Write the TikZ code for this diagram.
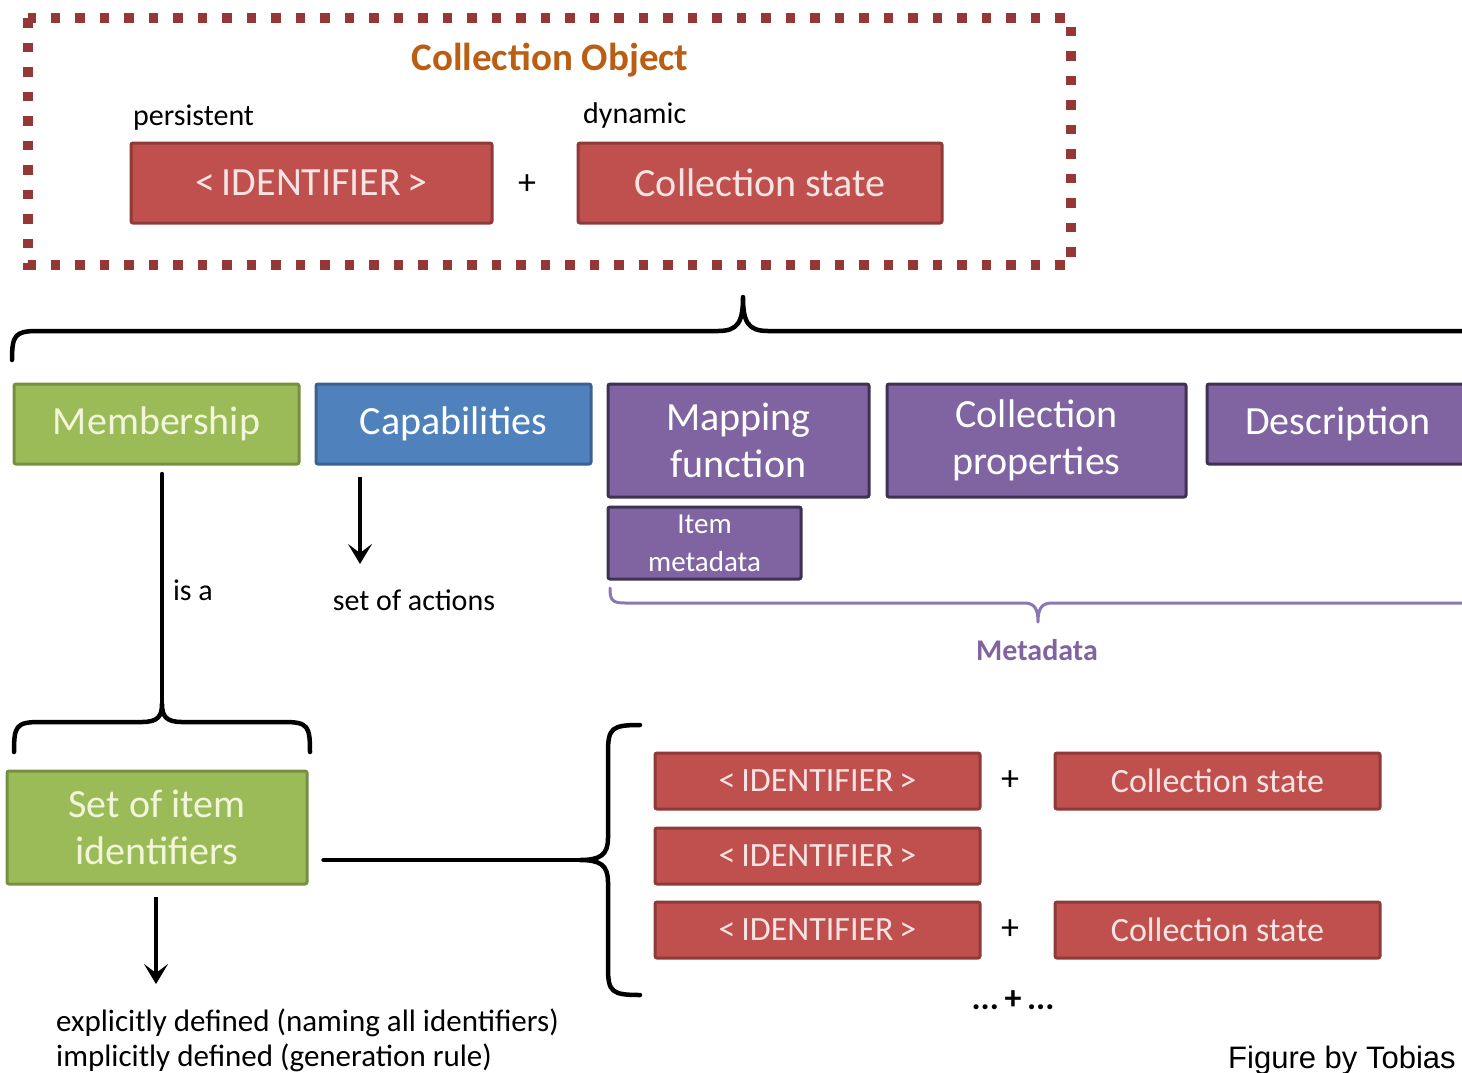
\documentclass[tikz,border=0pt]{standalone}
\usepackage{fontspec}
\setmainfont{Carlito}
\newfontfamily\arialfont{Liberation Sans}
\usetikzlibrary{arrows.meta,positioning}

\definecolor{idred}{HTML}{C0504D}
\definecolor{idredline}{HTML}{8E3A38}
\definecolor{idredtext}{HTML}{F6E4E3}
\definecolor{memgreen}{HTML}{9BBB59}
\definecolor{memgreenline}{HTML}{75903F}
\definecolor{memgreentext}{HTML}{F1F6D8}
\definecolor{capblue}{HTML}{4F81BD}
\definecolor{capblueline}{HTML}{3A6190}
\definecolor{metapurple}{HTML}{8064A2}
\definecolor{metapurpleline}{HTML}{3F3151}
\definecolor{bracepurple}{HTML}{8A78B4}
\definecolor{dotred}{HTML}{953735}
\definecolor{titleorange}{HTML}{B95E12}

\newcommand{\boxfont}{\fontsize{40}{47}\selectfont}
\newcommand{\smallboxfont}{\fontsize{34}{38}\selectfont}
\newcommand{\notefont}{\fontsize{30}{36}\selectfont}

\tikzset{
  cellbox/.style={rectangle,rounded corners=2pt,line width=3pt,inner sep=0pt,align=center,font=\boxfont},
  redbox/.style={cellbox,fill=idred,draw=idredline,text=idredtext},
  greenbox/.style={cellbox,fill=memgreen,draw=memgreenline,text=memgreentext},
  bluebox/.style={cellbox,fill=capblue,draw=capblueline,text=white},
  purplebox/.style={cellbox,fill=metapurple,draw=metapurpleline,text=white},
  note/.style={font=\notefont,inner sep=0pt},
  plus/.style={font=\fontsize{36}{36}\selectfont,inner sep=0pt},
  brace/.style={line width=4.5pt,line cap=round,line join=round},
  arr/.style={line width=4.5pt,-{Stealth[length=20pt,width=24pt,inset=9pt]}}
}

\begin{document}
\begin{tikzpicture}[x=1pt,y=-1pt]
  \useasboundingbox (0,0) rectangle (1462,1072);

  %collection object
  \draw[dotred,line width=9.5pt,dash pattern=on 9.5pt off 15pt] (28,18) rectangle (1071,265);
  \node[font=\fontsize{39}{39}\selectfont\bfseries,text=titleorange] (title) at (550,60) {Collection Object};
  \node[redbox,minimum width=361pt,minimum height=80pt] (idtop) at (311.5,183) {<\,IDENTIFIER\,>};
  \node[plus] (plustop) at (527,185) {+};
  \node[redbox,minimum width=364pt,minimum height=80pt] (sttop) at (760,183) {Collection state};
  \node[note,anchor=south west] (persist) at (133,131) {persistent};
  \node[note,anchor=south west] (dyn) at (583,129) {dynamic};

  %top brace
  \coordinate (topcusp) at (743,297);
  \draw[brace] (12,360) .. controls (12,335) and (15,331) .. (38,331) -- (718,331)
    .. controls (738,331) and (743,322) .. (topcusp)
    .. controls (743,322) and (748,331) .. (768,331) -- (1490,331);

  %parts
  \node[greenbox,minimum width=285pt,minimum height=80pt] (mem) at (156.5,424) {Membership};
  \node[bluebox,minimum width=275pt,minimum height=80pt] (cap) at (453.5,424) {Capabilities};
  \node[purplebox,minimum width=261pt,minimum height=113pt] (map) at (738.5,440.5) {Mapping\\function};
  \node[purplebox,minimum width=299pt,minimum height=113pt] (props) at (1036.5,440.5) {Collection\\properties};
  \node[purplebox,minimum width=262pt,minimum height=80pt] (desc) at (1338,424) {Description};
  \node[purplebox,font=\fontsize{29}{38}\selectfont,minimum width=193pt,minimum height=72pt] (item) at (704.5,543) {Item\\metadata};

  %metadata brace
  \coordinate (metacusp) at (1038,622);
  \draw[brace,bracepurple,line width=3pt] (610,588) .. controls (610,600) and (612,603) .. (625,603) -- (1024,603)
    .. controls (1034,603) and (1038,608) .. (metacusp)
    .. controls (1038,608) and (1042,603) .. (1052,603) -- (1490,603);
  \node[font=\fontsize{30}{30}\selectfont\bfseries,text=metapurple] (meta) at (1037,650) {Metadata};

  %capabilities
  \coordinate (capfoot) at (360,477);
  \coordinate (captip) at (360,564);
  \draw[arr] (capfoot) -- (captip);
  \node[note] (acts) at (414,600) {set of actions};

  %membership
  \coordinate (memfoot) at (162,474);
  \coordinate (memcusp) at (162,704);
  \draw[brace] (memfoot) -- (memcusp);
  \draw[brace] (14,752) .. controls (14,726) and (16,722) .. (40,722) -- (142,722)
    .. controls (158,722) and (162,716) .. (memcusp)
    .. controls (162,716) and (166,722) .. (182,722) -- (284,722)
    .. controls (308,722) and (310,726) .. (310,752);
  \node[note] (isa) at (193,590) {is a};

  \node[greenbox,minimum width=300pt,minimum height=113pt] (sid) at (157,827.5) {Set of item\\identifiers};
  \coordinate (sidfoot) at (156,897);
  \coordinate (sidtip) at (156,984);
  \draw[arr] (sidfoot) -- (sidtip);
  \node[note,align=left,anchor=north west,font=\fontsize{31}{35}\selectfont] (defs) at (56,1009)
    {explicitly defined (naming all identifiers)\\implicitly defined (generation rule)};

  %right brace
  \coordinate (sidcusp) at (580,860);
  \draw[brace] ([xshift=15pt]sid.east |- sidcusp) -- (sidcusp);
  \draw[brace] (640,725) .. controls (612,725) and (608,728) .. (608,752) -- (608,838)
    .. controls (608,855) and (600,860) .. (sidcusp)
    .. controls (600,860) and (608,865) .. (608,882) -- (608,968)
    .. controls (608,992) and (612,995) .. (640,995);

  %item identifiers
  \node[redbox,font=\smallboxfont,minimum width=325pt,minimum height=56pt] (id1) at (817.5,781) {<\,IDENTIFIER\,>};
  \node[plus] (plus1) at (1010,781) {+};
  \node[redbox,font=\smallboxfont,minimum width=325pt,minimum height=56pt] (st1) at (1217.5,781) {Collection state};
  \node[redbox,font=\smallboxfont,minimum width=325pt,minimum height=56pt] (id2) at (817.5,856) {<\,IDENTIFIER\,>};
  \node[redbox,font=\smallboxfont,minimum width=325pt,minimum height=56pt] (id3) at (817.5,930) {<\,IDENTIFIER\,>};
  \node[plus] (plus3) at (1010,930) {+};
  \node[redbox,font=\smallboxfont,minimum width=325pt,minimum height=56pt] (st3) at (1217.5,930) {Collection state};
  \node[plus,font=\fontsize{34}{34}\selectfont\bfseries] (more) at (1013,1000) {...\,+\,...};

  \node[font=\arialfont\fontsize{31}{31}\selectfont,anchor=base west,inner sep=0pt] (credit) at (1228,1068) {Figure by Tobias};
\end{tikzpicture}
\end{document}
